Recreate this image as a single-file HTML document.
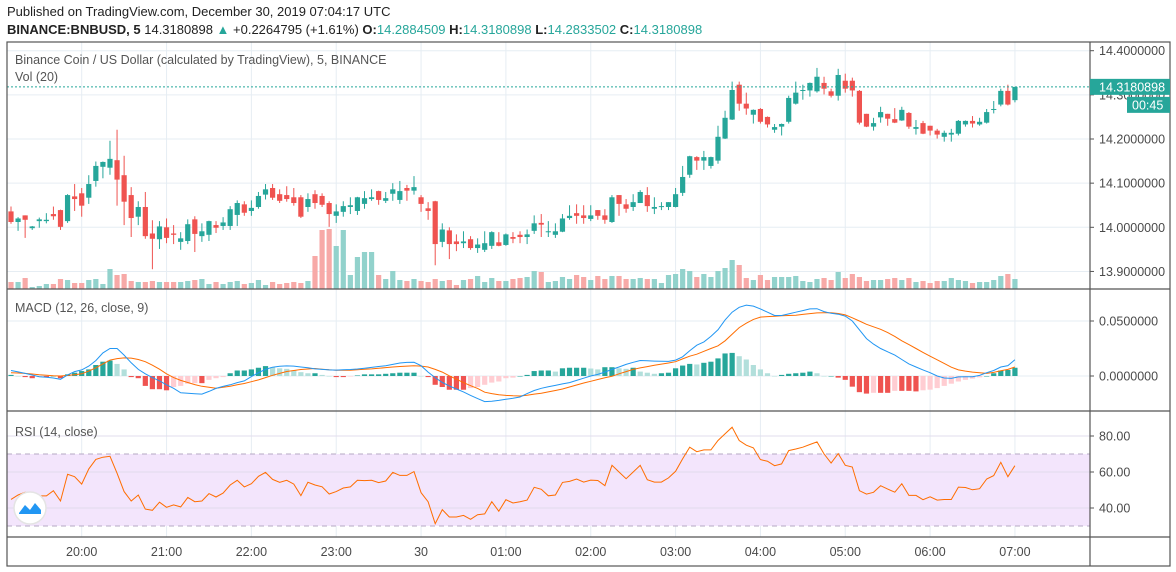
<!DOCTYPE html>
<html><head><meta charset="utf-8"><title>BNBUSD 5m chart</title>
<style>
html,body{margin:0;padding:0;background:#fff;}
svg{display:block;font-family:"Liberation Sans",Arial,sans-serif;}
</style></head>
<body>
<svg id="chart" width="1176" height="572" viewBox="0 0 1176 572" xmlns="http://www.w3.org/2000/svg">
  <rect x="0" y="0" width="1176" height="572" fill="#ffffff"/>
  <g>
    <text x="7" y="16" font-size="13" fill="#222">Published on TradingView.com, December 30, 2019 07:04:17 UTC</text>
    <text x="7" y="34" font-size="13" fill="#222"><tspan font-weight="bold">BINANCE:BNBUSD, 5</tspan> 14.3180898 <tspan fill="#26a69a">▲</tspan> +0.2264795 (+1.61%) <tspan font-weight="bold">O:</tspan><tspan fill="#26a69a">14.2884509</tspan> <tspan font-weight="bold">H:</tspan><tspan fill="#26a69a">14.3180898</tspan> <tspan font-weight="bold">L:</tspan><tspan fill="#26a69a">14.2833502</tspan> <tspan font-weight="bold">C:</tspan><tspan fill="#26a69a">14.3180898</tspan></text>
  </g>
  <g id="grid"></g>
  <g id="volume"></g>
  <g id="candles"></g>
  <g id="macd"></g>
  <g id="rsi"></g>
  <g id="axes"></g>
  <g>
    <text x="15" y="64" font-size="12.5" fill="#555">Binance Coin / US Dollar (calculated by TradingView), 5, BINANCE</text>
    <text x="15" y="81" font-size="12.5" fill="#555">Vol (20)</text>
    <text x="15" y="312" font-size="12.5" fill="#555">MACD (12, 26, close, 9)</text>
    <text x="15" y="436" font-size="12.5" fill="#555">RSI (14, close)</text>
  </g>
  <g>
    <circle cx="30" cy="508" r="16" fill="#fff" stroke="#e4e4e4" stroke-width="1.5"/>
    <path d="M19 513 L25 505 L30 510 L35 503 L41 510 L41 514 L19 514 Z" fill="#2196f3"/>
  </g>
</svg>
<script>
var opens=[14.036,14.012,14.027,13.998,14.014,14.014,14.030,14.039,14.014,14.070,14.077,14.067,14.105,14.137,14.135,14.152,14.118,14.073,14.024,14.046,13.986,13.973,14.000,13.986,13.967,13.969,14.018,13.980,13.983,14.005,14.003,14.003,14.028,14.052,14.037,14.046,14.074,14.089,14.075,14.073,14.068,14.068,14.046,14.075,14.071,14.055,14.026,14.035,14.046,14.037,14.053,14.064,14.082,14.060,14.076,14.062,14.089,14.083,14.068,14.043,14.059,13.967,13.993,13.968,13.964,13.973,13.953,13.949,13.958,13.966,13.960,13.978,13.983,13.978,13.992,14.010,13.989,13.983,13.990,14.021,14.032,14.027,14.019,14.039,14.027,14.012,14.073,14.052,14.046,14.055,14.073,14.042,14.046,14.046,14.046,14.078,14.119,14.159,14.151,14.139,14.151,14.201,14.244,14.323,14.280,14.255,14.268,14.250,14.221,14.228,14.239,14.280,14.309,14.310,14.308,14.327,14.308,14.298,14.332,14.332,14.309,14.257,14.228,14.249,14.257,14.245,14.242,14.259,14.223,14.236,14.230,14.219,14.205,14.210,14.212,14.233,14.241,14.233,14.237,14.267,14.278,14.309,14.288];
var highs=[14.047,14.023,14.027,14.003,14.022,14.032,14.047,14.040,14.075,14.098,14.089,14.118,14.149,14.149,14.196,14.221,14.162,14.091,14.059,14.080,14.016,14.014,14.020,14.005,13.989,14.018,14.025,14.009,14.015,14.014,14.023,14.048,14.061,14.059,14.061,14.080,14.098,14.098,14.086,14.093,14.089,14.073,14.077,14.084,14.077,14.059,14.052,14.059,14.068,14.069,14.082,14.086,14.083,14.080,14.100,14.105,14.096,14.116,14.073,14.057,14.060,14.009,14.000,13.984,13.991,13.980,13.975,13.991,13.991,13.989,13.986,13.989,13.991,13.995,14.027,14.030,14.014,14.009,14.030,14.050,14.052,14.050,14.050,14.039,14.041,14.073,14.073,14.064,14.075,14.084,14.091,14.068,14.057,14.057,14.089,14.139,14.162,14.161,14.173,14.160,14.230,14.264,14.330,14.330,14.305,14.267,14.270,14.251,14.234,14.235,14.298,14.330,14.323,14.328,14.361,14.341,14.314,14.359,14.348,14.339,14.311,14.257,14.248,14.273,14.257,14.270,14.273,14.261,14.243,14.241,14.230,14.223,14.219,14.223,14.243,14.242,14.252,14.248,14.268,14.286,14.314,14.323,14.318];
var lows=[14.008,13.992,13.976,13.994,13.999,14.009,14.017,13.994,14.010,14.037,14.024,14.053,14.092,14.111,14.119,14.049,14.005,13.978,14.005,13.974,13.905,13.951,13.964,13.962,13.949,13.962,13.944,13.967,13.969,13.987,13.994,13.994,14.003,14.026,14.026,14.042,14.063,14.062,14.055,14.058,14.049,14.021,14.035,14.042,14.046,14.001,14.010,14.024,14.030,14.028,14.042,14.060,14.051,14.055,14.060,14.053,14.060,14.074,14.035,14.017,13.914,13.955,13.928,13.946,13.953,13.949,13.942,13.944,13.951,13.957,13.958,13.964,13.964,13.962,13.985,13.978,13.978,13.976,13.989,14.017,14.008,14.008,14.014,14.017,14.008,14.010,14.026,14.033,14.037,14.055,14.035,14.030,14.039,14.039,14.045,14.071,14.112,14.130,14.130,14.133,14.144,14.200,14.243,14.264,14.255,14.235,14.235,14.226,14.214,14.208,14.235,14.278,14.289,14.296,14.305,14.301,14.294,14.287,14.305,14.296,14.233,14.227,14.219,14.237,14.230,14.236,14.241,14.223,14.210,14.211,14.208,14.201,14.194,14.194,14.208,14.228,14.226,14.230,14.235,14.258,14.274,14.276,14.283];
var closes=[14.012,14.020,14.017,14.002,14.018,14.017,14.025,14.001,14.073,14.064,14.049,14.098,14.139,14.148,14.155,14.108,14.058,14.021,14.046,13.980,13.974,14.002,13.976,13.983,13.975,14.007,13.985,13.991,14.014,13.999,14.011,14.041,14.055,14.033,14.044,14.071,14.086,14.067,14.060,14.064,14.055,14.024,14.064,14.055,14.051,14.030,14.036,14.048,14.050,14.068,14.066,14.068,14.062,14.066,14.086,14.082,14.083,14.091,14.053,14.037,13.962,13.995,13.962,13.962,13.968,13.953,13.961,13.964,13.989,13.958,13.984,13.974,13.978,13.984,14.009,14.006,13.991,13.991,14.020,14.026,14.026,14.021,14.027,14.026,14.017,14.068,14.053,14.042,14.057,14.080,14.048,14.046,14.048,14.057,14.075,14.114,14.161,14.151,14.159,14.159,14.205,14.248,14.311,14.280,14.269,14.266,14.239,14.233,14.227,14.234,14.293,14.305,14.311,14.327,14.341,14.314,14.298,14.345,14.314,14.310,14.237,14.228,14.236,14.261,14.246,14.237,14.266,14.228,14.227,14.212,14.219,14.210,14.214,14.214,14.241,14.241,14.235,14.239,14.261,14.268,14.309,14.278,14.318];
var volumes=[21,21,33,6,9,15,15,30,27,18,18,27,30,15,60,42,45,24,21,21,24,21,21,21,21,24,27,30,15,21,15,21,24,15,18,27,12,21,15,18,21,18,24,99,177,180,129,177,42,96,111,111,42,30,54,27,24,30,24,21,30,24,27,12,27,30,39,21,33,24,24,30,33,36,54,51,21,24,36,30,42,36,27,39,30,39,39,30,30,33,30,30,18,42,45,60,54,36,45,36,54,63,87,72,33,27,42,27,36,36,36,39,24,21,30,33,27,51,33,45,36,24,27,27,30,33,27,33,21,24,18,24,24,33,27,24,18,21,21,27,39,45,30];
var macdLine=[.005,.0037,.0024,.0009,-.0006,-.0012,-.0018,-.003,.001,.004,.0055,.009,.014,.021,.025,.025,.019,.012,.006,.002,-.0015,-.0045,-.008,-.0112,-.0153,-.0157,-.0161,-.0165,-.014,-.0113,-.0095,-.008,-.006,-.0045,-.0005,.003,.006,.008,.0088,.0092,.009,.0082,.0075,.0065,.006,.0055,.0054,.0056,.0059,.0064,.0071,.0078,.0086,.0094,.0105,.0118,.0124,.0125,.0094,.0035,-.0015,-.0059,-.009,-.0118,-.0145,-.0176,-.0205,-.0233,-.0230,-.0222,-.0212,-.0203,-.0191,-.016,-.0132,-.0112,-.0098,-.0085,-.0072,-.006,-.004,-.002,0,.0015,.0035,.006,.0082,.0105,.0125,.0141,.0138,.0135,.0134,.0133,.0145,.0175,.023,.028,.031,.036,.042,.051,.058,.0625,.0645,.0635,.061,.058,.055,.055,.0565,.058,.0595,.061,.0612,.0585,.057,.0562,.0545,.05,.042,.034,.029,.025,.022,.019,.015,.011,.0082,.0055,.003,0,-.0018,-.0022,-.0008,-.0006,-.0006,.0005,.003,.005,.0082,.0095,.0147];
var signalLine=[.0029,.0027,.0024,.0018,.0012,.0007,.0002,0,.0005,.0012,.002,.0045,.0075,.011,.0145,.0158,.0165,.0163,.015,.013,.0098,.0062,.002,-.0015,-.004,-.0059,-.0078,-.0094,-.0103,-.0111,-.0103,-.0094,-.008,-.0068,-.0052,-.0035,-.0015,.0006,.0024,.0041,.005,.0059,.0064,.0068,.0062,.0056,.0053,.0053,.0053,.0057,.0061,.0065,.007,.0076,.0082,.0086,.009,.0093,.009,.0082,.006,.0035,.0002,-.0029,-.006,-.0088,-.0113,-.0147,-.016,-.0171,-.0176,-.018,-.0182,-.0175,-.0165,-.0157,-.0145,-.0132,-.0118,-.01,-.0082,-.0064,-.0048,-.0032,-.0016,-.0003,.002,.004,.006,.0074,.0085,.0098,.0108,.0118,.013,.0155,.018,.0198,.0225,.025,.0275,.032,.038,.044,.048,.0515,.0535,.054,.0544,.0547,.055,.0553,.056,.0567,.0574,.0575,.0575,.0568,.0555,.0529,.05,.047,.0447,.0425,.0395,.036,.032,.0285,.025,.0215,.018,.0147,.0115,.008,.0055,.0045,.0035,.003,.0024,.0033,.0047,.006,.0082];
var histValues=[.001,0,-.001,-.002,-.001,-.001,0,-.002,.0015,.003,.0045,.006,.010,.013,.014,.011,.006,-.001,-.002,-.009,-.012,-.012,-.013,-.010,-.009,-.007,-.0065,-.0065,-.0035,-.002,-.001,.0025,.005,.005,.006,.0075,.009,.008,.007,.0065,.005,.0035,.0025,.0025,.001,0,-.001,-.001,-.0005,.0005,.0015,.0015,.0015,.002,.0025,.003,.003,.003,0,-.001,-.008,-.010,-.0125,-.0125,-.0125,-.011,-.010,-.008,-.006,-.005,-.002,-.0015,0,.001,.0045,.005,.005,.004,.007,.0075,.0075,.0075,.0068,.006,.008,.008,.007,.0065,.0075,.004,.003,.002,.0025,.003,.007,.0095,.011,.0105,.012,.013,.016,.0205,.021,.018,.015,.010,.006,.0025,0,.001,.002,.0025,.003,.004,.0025,0,0,-.0015,-.0035,-.0097,-.0147,-.016,-.0153,-.0153,-.0153,-.0135,-.0135,-.0135,-.014,-.013,-.0124,-.011,-.009,-.007,-.005,-.0035,-.0024,-.0012,0,.0025,.005,.0055,.0075];
var rsiValues=[44.8,47.2,48.7,47.6,46.7,46.7,49.6,43.9,58.7,57.4,53.3,61.7,67.0,68.2,68.7,59.3,49.1,43.9,47.2,39.4,38.7,43.2,40.4,41.7,40.6,45.9,43.5,43.9,48.0,46.1,48.3,52.8,55.4,51.7,53.5,57.6,59.8,55.9,54.3,55.4,53.3,46.9,54.3,52.8,51.8,47.8,49.1,51.1,51.7,55.4,55.2,55.4,54.1,55.0,59.8,58.1,58.1,60.2,48.5,43.5,31.3,39.1,35.0,35.0,35.9,33.7,36.3,36.7,43.5,38.2,44.6,42.8,43.5,44.4,51.5,50.4,46.8,47.2,54.2,54.8,56.1,54.4,55.5,55.3,52.4,63.7,60.0,56.3,60.0,63.7,55.7,54.4,54.4,56.7,60.4,67.3,73.8,71.3,72.3,72.3,77.5,81.2,84.9,77.5,74.9,73.4,66.9,66.0,63.5,64.5,71.9,72.8,73.8,75.3,76.7,70.0,65.0,70.2,63.7,62.8,49.6,47.7,48.7,52.4,50.5,48.8,53.5,47.0,47.0,44.6,46.2,44.4,44.7,44.7,51.6,51.4,50.1,50.7,56.1,58.0,65.4,57.4,63.5];
var priceTicks=[14.4,14.3,14.2,14.1,14.0,13.9];
var macdTicks=[0.05,0];
var rsiTicks=[80,60,40];
var timeLabels=["20:00","21:00","22:00","23:00","30","01:00","02:00","03:00","04:00","05:00","06:00","07:00"];
var timeIndex=[10,22,34,46,58,70,82,94,106,118,130,142];
var lastPrice=14.3180898;

var NS="http://www.w3.org/2000/svg";
var PL=7,PR=1090,RIGHT=1170;
function xAt(i){return 11+7.07*i;}
function yPrice(p){return 139+(14.2-p)*441.5;}
function yVol(v){return 289-v/3;}
function yMacd(v){return 376-v*1100;}
function yRsi(v){return 472-(v-60)*1.8;}
function mk(tag,attrs,parent){var e=document.createElementNS(NS,tag);for(var k in attrs)e.setAttribute(k,attrs[k]);parent.appendChild(e);return e;}
var GREEN="#26a69a",RED="#ef5350";
var grid=document.getElementById('grid');
for(var t=0;t<timeIndex.length;t++){
  var gx=xAt(timeIndex[t]);
  var gl=mk('line',{x1:gx,x2:gx,y1:42,y2:537,stroke:"#e6edf3","stroke-width":1},grid);
  
  
}
for(var p=0;p<priceTicks.length;p++){
  var gy=yPrice(priceTicks[p]);
  var hl=mk('line',{x1:PL,x2:PR,y1:gy,y2:gy,stroke:"#e6edf3","stroke-width":1},grid);
  
  
}
for(var m=0;m<macdTicks.length;m++){
  var my=yMacd(macdTicks[m]);
  var ml=mk('line',{x1:PL,x2:PR,y1:my,y2:my,stroke:"#e6edf3","stroke-width":1},grid);
  
  
}
var band=mk('rect',{x:PL,y:yRsi(70),width:PR-PL,height:yRsi(30)-yRsi(70),fill:"#f3e5fc"},grid);


for(var r=0;r<rsiTicks.length;r++){
  var ry=yRsi(rsiTicks[r]);
  var rl=mk('line',{x1:PL,x2:PR,y1:ry,y2:ry,stroke:"#e2dcec","stroke-width":1},grid);
  
  
}
[70,30].forEach(function(v){
  var dl=mk('line',{x1:PL,x2:PR,y1:yRsi(v),y2:yRsi(v),stroke:"#b6a9c3","stroke-width":1,"stroke-dasharray":"5,4"},grid);
  
  
});
var vg=document.getElementById('volume');
for(var i=0;i<volumes.length;i++){
  var up=closes[i]>=opens[i];
  var vy=yVol(volumes[i]);
  var vb=mk('rect',{x:xAt(i)-2.6,y:vy,width:5.2,height:289-vy,fill:up?"#92d2cc":"#f7a9a7"},vg);
  
  
}
var cg=document.getElementById('candles');
for(var i=0;i<opens.length;i++){
  var isUp=closes[i]>=opens[i],col=isUp?GREEN:RED,cx=xAt(i);
  var w=mk('line',{x1:cx,x2:cx,y1:yPrice(highs[i]),y2:yPrice(lows[i]),stroke:col,"stroke-width":1},cg);
  
  
  var bTop=yPrice(Math.max(opens[i],closes[i])),bBot=yPrice(Math.min(opens[i],closes[i]));
  var b=mk('rect',{x:cx-2.6,y:bTop,width:5.2,height:Math.max(1,bBot-bTop),fill:col},cg);
  
  
}
var lp=mk('line',{x1:PL,x2:PR,y1:yPrice(lastPrice),y2:yPrice(lastPrice),stroke:GREEN,"stroke-width":1,"stroke-dasharray":"2,2"},cg);


var mg=document.getElementById('macd');
for(var i=0;i<histValues.length;i++){
  var v=histValues[i],pv=i>0?histValues[i-1]:0,c;
  if(v>=0)c=(v>=pv)?GREEN:"#b2dfdb";else c=(v<=pv)?RED:"#ffcdd2";
  var hy0=yMacd(0),hy1=yMacd(v);
  var hb=mk('rect',{x:xAt(i)-2.6,y:Math.min(hy0,hy1),width:5.2,height:Math.max(0.5,Math.abs(hy1-hy0)),fill:c},mg);
  
  
}
function pathOf(arr,yf){var d="";for(var i=0;i<arr.length;i++){d+=(i?"L":"M")+xAt(i).toFixed(1)+" "+yf(arr[i]).toFixed(1);}return d;}
var sl=mk('path',{d:pathOf(signalLine,yMacd),fill:"none",stroke:"#ff6d00","stroke-width":1},mg);


var mlp=mk('path',{d:pathOf(macdLine,yMacd),fill:"none",stroke:"#2196f3","stroke-width":1},mg);


var rg=document.getElementById('rsi');
var rp=mk('path',{d:pathOf(rsiValues,yRsi),fill:"none",stroke:"#ff6d00","stroke-width":1},rg);


var ax=document.getElementById('axes');
var frame=mk('rect',{x:PL,y:42,width:RIGHT-PL,height:524,fill:"none",stroke:"#555","stroke-width":1.2},ax);


var vs=mk('line',{x1:PR,x2:PR,y1:42,y2:566,stroke:"#555","stroke-width":1.2},ax);


[289,411].forEach(function(yy){
  var s=mk('line',{x1:PL,x2:RIGHT,y1:yy,y2:yy,stroke:"#555","stroke-width":1.2},ax);
  
  
});
var ta=mk('line',{x1:PL,x2:RIGHT,y1:537,y2:537,stroke:"#555","stroke-width":1.2},ax);


function label(x,y,txt,name){
  var tk=mk('line',{x1:PR,x2:PR+4,y1:y,y2:y,stroke:"#555","stroke-width":1},ax);
  
  
  var tx=mk('text',{x:x,y:y+4.5,"font-size":12.5,fill:"#4a4a4a"},ax);
  tx.textContent=txt;
  
  
}
for(var p=0;p<priceTicks.length;p++)label(PR+9,yPrice(priceTicks[p]),priceTicks[p].toFixed(7),'price-tick-label');
for(var m=0;m<macdTicks.length;m++)label(PR+9,yMacd(macdTicks[m]),macdTicks[m].toFixed(7),'macd-tick-label');
for(var r=0;r<rsiTicks.length;r++)label(PR+9,yRsi(rsiTicks[r]),rsiTicks[r].toFixed(2),'rsi-tick-label');
for(var t=0;t<timeLabels.length;t++){
  var tt=mk('text',{x:xAt(timeIndex[t]),y:556,"font-size":12.5,fill:"#4a4a4a","text-anchor":"middle"},ax);
  tt.textContent=timeLabels[t];
  
  
}
var ly=yPrice(lastPrice);
var pb=mk('rect',{x:PR,y:ly-8,width:RIGHT-PR,height:16,fill:GREEN},ax);


var pt=mk('text',{x:PR+9,y:ly+4.5,"font-size":12.5,fill:"#fff"},ax);
pt.textContent=lastPrice.toFixed(7);


var cb=mk('rect',{x:1127,y:ly+10,width:RIGHT-1127,height:16,fill:GREEN},ax);


var ct=mk('text',{x:1132,y:ly+22.5,"font-size":12.5,fill:"#fff"},ax);
ct.textContent="00:45";


</script>
</body></html>
